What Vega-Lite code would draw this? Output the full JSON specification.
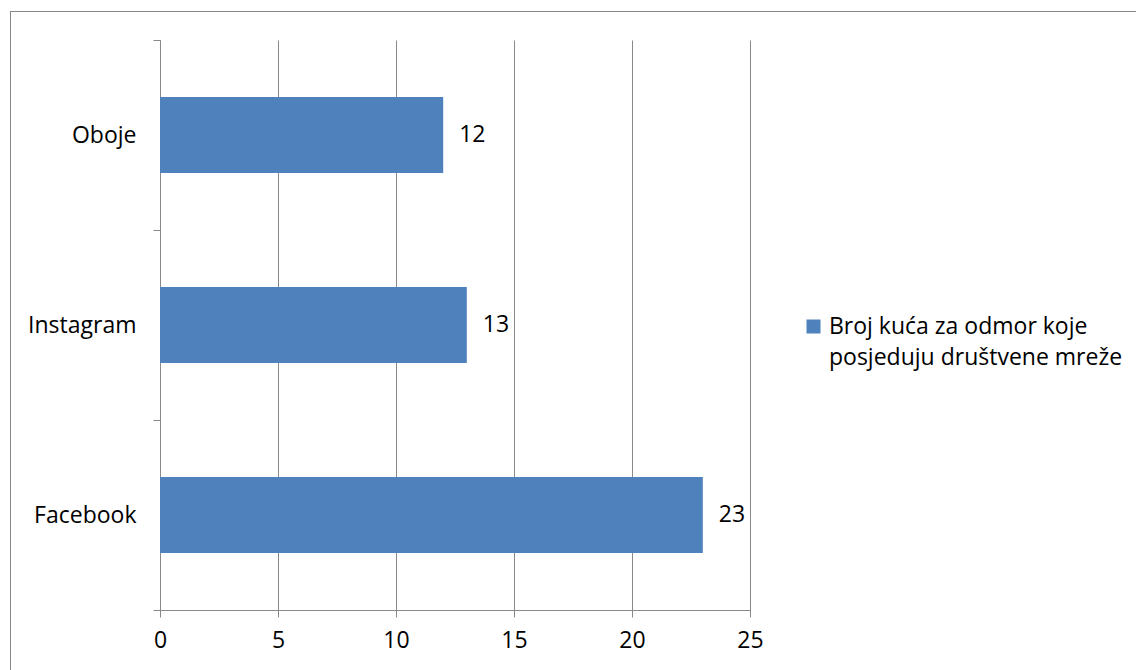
{
  "$schema": "https://vega.github.io/schema/vega-lite/v6.json",
  "autosize": {"type": "none"},
  "width": 590,
  "height": 570,
  "padding": {"left": 160, "top": 40, "right": 386, "bottom": 60},
  "background": "white",
  "config": {
    "view": {"stroke": null},
    "font": "Open Sans",
    "style": {"guide-label": {"lineHeight": 31}}
  },
  "data": {
    "values": [
      {"platform": "Oboje", "count": 12, "series": "Broj kuća za odmor koje posjeduju društvene mreže"},
      {"platform": "Instagram", "count": 13, "series": "Broj kuća za odmor koje posjeduju društvene mreže"},
      {"platform": "Facebook", "count": 23, "series": "Broj kuća za odmor koje posjeduju društvene mreže"}
    ]
  },
  "layer": [
    {
      "encoding": {
        "y": {
          "field": "platform",
          "type": "nominal",
          "sort": ["Oboje", "Instagram", "Facebook"],
          "scale": {"paddingInner": 0, "paddingOuter": 0},
          "axis": {
            "title": null,
            "tickBand": "extent",
            "domainColor": "#898989",
            "tickColor": "#898989",
            "tickSize": 7,
            "labelFontSize": 23,
            "labelColor": "black",
            "labelPadding": 17
          }
        },
        "x": {
          "field": "count",
          "type": "quantitative",
          "scale": {"domain": [0, 25], "nice": false},
          "axis": {
            "title": null,
            "values": [0, 5, 10, 15, 20, 25],
            "grid": true,
            "gridColor": "#898989",
            "gridOpacity": 1,
            "domainColor": "#898989",
            "tickColor": "#898989",
            "tickSize": 7,
            "labelFontSize": 23,
            "labelColor": "black",
            "labelPadding": 12,
            "labelFlush": false
          }
        }
      },
      "layer": [
        {
          "mark": {"type": "bar", "height": {"band": 0.4}},
          "encoding": {
            "color": {
              "field": "series",
              "type": "nominal",
              "scale": {"range": ["#4f81bd"]},
              "legend": {
                "title": null,
                "orient": "none",
                "legendX": 642,
                "legendY": 275,
                "symbolType": "square",
                "symbolSize": 196,
                "symbolStrokeWidth": 0,
                "symbolOpacity": 1,
                "labelFontSize": 23,
                "labelColor": "black",
                "labelLimit": 400,
                "labelExpr": "[slice(datum.label, 0, 23), slice(datum.label, 24)]"
              }
            }
          }
        },
        {
          "mark": {"type": "text", "align": "left", "baseline": "middle", "dx": 16, "fontSize": 23, "color": "black"},
          "encoding": {"text": {"field": "count", "type": "quantitative"}}
        }
      ]
    },
    {
      "mark": {"type": "rect", "fill": null, "stroke": "#898989", "strokeWidth": 1},
      "encoding": {
        "x": {"datum": -6.335, "type": "quantitative", "scale": {"domain": [0, 25], "nice": false}},
        "x2": {"datum": 42},
        "y": {"datum": -0.14, "type": "quantitative", "scale": {"domain": [0, 1], "nice": false, "zero": false}, "axis": null},
        "y2": {"datum": 1.05}
      }
    }
  ],
  "resolve": {"scale": {"y": "independent"}, "axis": {"y": "independent"}}
}
